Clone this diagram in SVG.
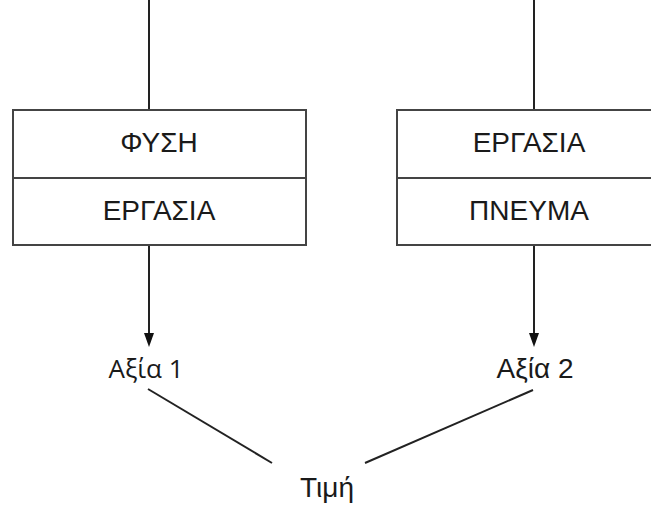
<svg xmlns="http://www.w3.org/2000/svg" width="651" height="506" viewBox="0 0 651 506">
<defs>
<style>
.box{fill:#fff;stroke:#444;stroke-width:2}
.sep{stroke:#444;stroke-width:2}
.t{font-family:"Liberation Sans",Arial,sans-serif;font-size:28px;fill:#1a1a1a;text-anchor:middle}
.l{font-family:"Open Sans","Liberation Sans",sans-serif;font-size:26px;fill:#1a1a1a;text-anchor:middle}
.c{stroke:#222;stroke-width:2;fill:none}
.ah{fill:#111}
</style>
</defs>
<rect width="651" height="506" fill="#fff"/>
<g id="connectors">
<line class="c" x1="149" y1="0" x2="149" y2="110"/>
<line class="c" x1="534" y1="0" x2="534" y2="110"/>
<line class="c" x1="149" y1="245" x2="149" y2="334"/>
<path class="ah" d="M144,333 L154,333 L149,347 Z"/>
<line class="c" x1="534" y1="245" x2="534" y2="334"/>
<path class="ah" d="M529,333 L539,333 L534,347 Z"/>
<line class="c" x1="148" y1="389" x2="272" y2="463"/>
<line class="c" x1="365" y1="463" x2="533" y2="390"/>
</g>
<g id="node-left">
<rect class="box" x="13" y="110" width="293" height="135"/>
<line class="sep" x1="13" y1="178" x2="306" y2="178"/>
<text class="t" x="159" y="152">ΦΥΣΗ</text>
<text class="t" x="159" y="220">ΕΡΓΑΣΙΑ</text>
</g>
<g id="node-right">
<rect class="box" x="397" y="110" width="264" height="135"/>
<line class="sep" x1="397" y1="178" x2="661" y2="178"/>
<text class="t" x="529" y="152">ΕΡΓΑΣΙΑ</text>
<text class="t" x="529" y="220">ΠΝΕΥΜΑ</text>
</g>
<g id="node-value1">
<text class="l" x="146" y="378">Αξία 1</text>
</g>
<g id="node-value2">
<text class="t" x="535" y="378">Αξία 2</text>
</g>
<g id="node-price">
<text class="t" x="327" y="497">Τιμή</text>
</g>
</svg>
